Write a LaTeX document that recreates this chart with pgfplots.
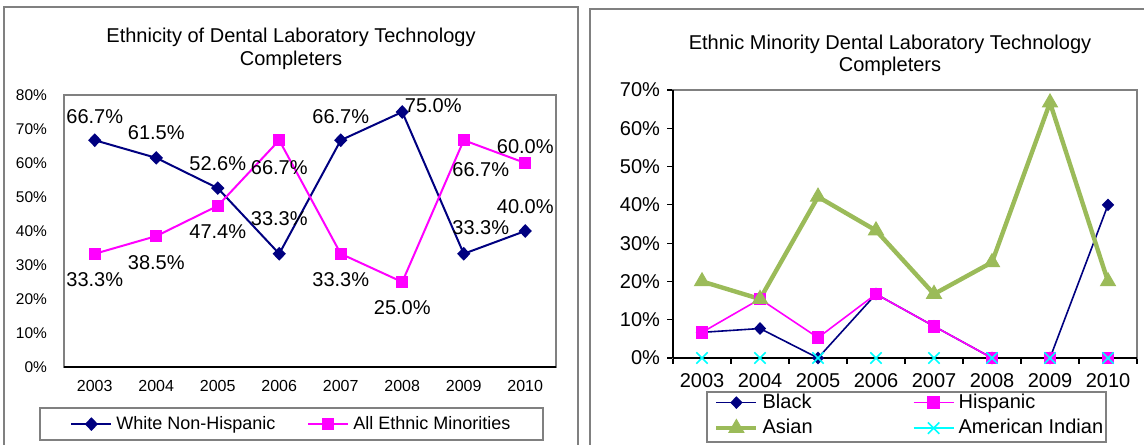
\documentclass[border=0pt]{standalone}
\usepackage{pgfplots}
\usepackage{pgfplotstable}
\pgfplotsset{compat=1.18}
\usepackage{fontspec}
\setmainfont{Liberation Sans}
\definecolor{navy}{RGB}{0,0,128}
\definecolor{mag}{RGB}{255,0,255}
\definecolor{asgreen}{RGB}{155,187,89}
\definecolor{cyn}{RGB}{0,255,255}
\definecolor{framec}{RGB}{128,128,128}

\pgfplotstableread{
x y dx dy
0 66.7 0 12
1 61.5 0 12.5
2 52.6 0 12.5
3 33.3 0 17.5
4 66.7 0 12
5 75.0 15.5 3
6 33.3 8.5 13
7 40.0 0 12
}\whitetab
\pgfplotstableread{
x y dx dy
0 33.3 0 -13
1 38.5 0 -13.5
2 47.4 0 -13
3 66.7 0 -13.5
4 33.3 0 -13
5 25.0 0 -13
6 66.7 8.5 -14.5
7 60.0 0 8
}\minortab
\pgfplotstableread{
x black hisp asian amind
0 6.7 6.7 20.0 0
1 7.7 15.4 15.4 0
2 0.0 5.3 42.1 0
3 16.7 16.7 33.3 0
4 8.3 8.3 16.7 0
5 0.0 0.0 25.0 0
6 0.0 0.0 66.7 0
7 40.0 0.0 20.0 0
}\ethtab

\pgfplotsset{
  lbl/.style={
    nodes near coords={\pgfmathprintnumber[fixed,fixed zerofill,precision=1]{\pgfplotspointmeta}\%},
    visualization depends on={\thisrow{dx}\as\dx},
    visualization depends on={\thisrow{dy}\as\dy},
    every node near coord/.append style={anchor=center, xshift=\dx pt, yshift=\dy pt, font=\fontsize{10}{12}\selectfont, text=black, inner sep=0pt},
  }
}

\begin{document}
\begin{tikzpicture}
\useasboundingbox (0pt,0pt) rectangle (572pt,222pt);
\draw[framec,line width=0.6pt] (2pt,-2pt) -- (2pt,218.5pt) -- (289pt,218.5pt) -- (289pt,-2pt);
\draw[framec,line width=0.6pt] (295pt,-2pt) -- (295pt,217.5pt) -- (575pt,217.5pt);
\node[anchor=base,inner sep=0pt,font=\fontsize{10}{12}\selectfont] at (145.5pt,200.5pt) {Ethnicity of Dental Laboratory Technology};
\node[anchor=base,inner sep=0pt,font=\fontsize{10}{12}\selectfont] at (145.5pt,189pt) {Completers};
\node[anchor=base,inner sep=0pt,font=\fontsize{10}{12}\selectfont] at (445pt,197pt) {Ethnic Minority Dental Laboratory Technology};
\node[anchor=base,inner sep=0pt,font=\fontsize{10}{12}\selectfont] at (445pt,186pt) {Completers};
\draw[framec,line width=0.6pt] (20pt,2pt) rectangle (271.5pt,18pt);
\draw[framec,line width=0.6pt] (353.5pt,1pt) rectangle (553pt,26pt);

\begin{axis}[
  at={(32pt,38.5pt)}, anchor=south west, scale only axis,
  width=246pt, height=136pt,
  xmin=-0.5, xmax=7.5, ymin=0, ymax=80,
  xtick={0,1,2,3,4,5,6,7},
  xticklabels={2003,2004,2005,2006,2007,2008,2009,2010},
  ytick={0,10,20,30,40,50,60,70,80},
  yticklabel={\pgfmathprintnumber{\tick}\%},
  /pgf/number format/assume math mode=true,
  major tick length=0pt,
  axis line style={framec, line width=0.6pt},
  xticklabel style={font=\fontsize{8}{10}\selectfont, yshift=-3pt},
  yticklabel style={font=\fontsize{7.75}{9}\selectfont, xshift=-5pt},
  clip=false,
  legend cell align=left,
  legend style={draw=none, fill=none, at={(axis description cs:0.0,-0.21)}, anchor=west,
    legend columns=2, font=\fontsize{9}{11}\selectfont,
    /tikz/every even column/.append style={column sep=14pt}},
  legend image code/.code={\draw[mark repeat=2,mark phase=2] plot coordinates {(0pt,0pt)(10pt,0pt)(20pt,0pt)};},
]
\addplot[navy, line width=1pt, mark=diamond*, mark size=2.7pt, mark options={xscale=1.3, fill=navy}, lbl] table[x=x,y=y] {\whitetab};
\addlegendentry{White Non-Hispanic}
\addplot[mag, line width=1pt, mark=square*, mark size=2.5pt, mark options={fill=mag}, lbl] table[x=x,y=y] {\minortab};
\addlegendentry{All Ethnic Minorities}
\draw[black, line width=1pt] (rel axis cs:0,0) -- (rel axis cs:1,0);
\end{axis}

\begin{axis}[
  at={(336.5pt,43pt)}, anchor=south west, scale only axis,
  width=232pt, height=134pt,
  xmin=-0.5, xmax=7.5, ymin=0, ymax=70,
  xtick={-0.5,0.5,1.5,2.5,3.5,4.5,5.5,6.5,7.5},
  xticklabels={},
  extra x ticks={0,1,2,3,4,5,6,7},
  extra x tick labels={2003,2004,2005,2006,2007,2008,2009,2010},
  extra x tick style={major tick length=0pt, xticklabel style={font=\fontsize{10}{12}\selectfont, yshift=-4pt}},
  ytick={0,10,20,30,40,50,60,70},
  yticklabel={\pgfmathprintnumber{\tick}\%},
  /pgf/number format/assume math mode=true,
  xtick pos=bottom, ytick pos=left,
  tick align=outside, major tick length=3pt,
  tick style={black, line width=0.6pt},
  axis line style={framec, line width=0.6pt},
  yticklabel style={font=\fontsize{10}{12}\selectfont},
  clip=false,
  legend cell align=left,
  legend style={draw=none, fill=none, at={(axis description cs:0.075,-0.214)}, anchor=west,
    legend columns=2, font=\fontsize{10}{12}\selectfont, row sep=0pt,
    /tikz/every even column/.append style={column sep=48pt}},
  legend image code/.code={\draw[mark repeat=2,mark phase=2] plot coordinates {(0pt,0pt)(10pt,0pt)(20pt,0pt)};},
]
\addplot[navy, line width=0.8pt, mark=diamond*, mark size=2.6pt, mark options={xscale=1.3, fill=navy}] table[x=x,y=black] {\ethtab};
\addlegendentry{Black}
\addplot[mag, line width=0.8pt, mark=square*, mark size=2.8pt, mark options={fill=mag}] table[x=x,y=hisp] {\ethtab};
\addlegendentry{Hispanic}
\addplot[asgreen, line width=2.2pt, mark=triangle*, mark size=4.3pt, mark options={fill=asgreen, line width=0.5pt}] table[x=x,y=asian] {\ethtab};
\addlegendentry{Asian}
\addplot[cyn, line width=1pt, mark=x, mark size=4pt, mark options={line width=0.8pt}] table[x=x,y=amind] {\ethtab};
\addlegendentry{American Indian}
\draw[black, line width=0.6pt] (rel axis cs:0,0) -- (rel axis cs:0,1);
\draw[black, line width=1pt] (rel axis cs:0,0) -- (rel axis cs:1,0);
\end{axis}
\end{tikzpicture}
\end{document}
